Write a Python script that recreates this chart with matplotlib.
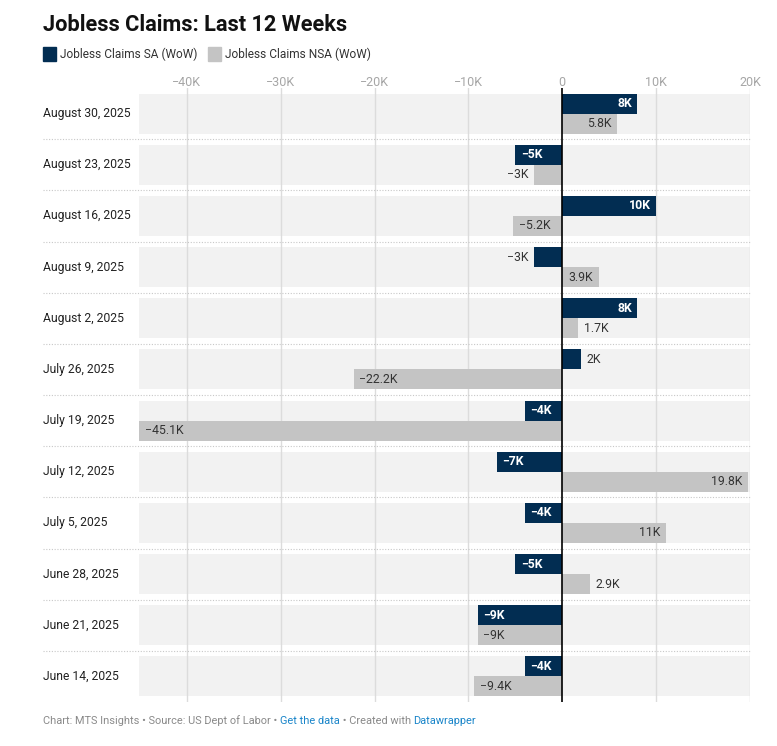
import matplotlib
matplotlib.use('Agg')
import matplotlib.pyplot as plt
from matplotlib.patches import Rectangle

plt.rcParams['font.family'] = ['Roboto', 'DejaVu Sans']

dates = ['August 30, 2025', 'August 23, 2025', 'August 16, 2025', 'August 9, 2025',
         'August 2, 2025', 'July 26, 2025', 'July 19, 2025', 'July 12, 2025',
         'July 5, 2025', 'June 28, 2025', 'June 21, 2025', 'June 14, 2025']
sa = [8, -5, 10, -3, 8, 2, -4, -7, -4, -5, -9, -4]
nsa = [5.8, -3, -5.2, 3.9, 1.7, -22.2, -45.1, 19.8, 11, 2.9, -9, -9.4]
ticks = [-40, -30, -20, -10, 0, 10, 20]

navy = '#022d52'
grey = '#c4c4c4'
band = '#f2f2f2'

W, H = 777, 746
fig = plt.figure(figsize=(W / 100, H / 100), dpi=100)
x0, x1 = 139, 750
ytop, ybot = 88, 702
ax = fig.add_axes([x0 / W, 1 - ybot / H, (x1 - x0) / W, (ybot - ytop) / H])

xmin, xmax = min(nsa), 20
n = len(dates)
ax.set_xlim(xmin, xmax)
ax.set_ylim(n - 0.5, -0.5)
for s in ax.spines.values():
    s.set_visible(False)

h = 0.39
for i in range(n):
    ax.barh(i, xmax - xmin, left=xmin, height=2 * h, color=band, zorder=0)
for t in ticks:
    if t != 0:
        ax.axvline(t, color='#dcdcdc', lw=1, zorder=1)
for i in range(n - 1):
    ax.axhline(i + 0.5, xmin=(43 - x0) / (x1 - x0), xmax=1, color='#c8c8c8',
               lw=0.8, ls=(0, (1, 1.5)), clip_on=False, zorder=1)

ys = [i - h / 2 for i in range(n)]
yn = [i + h / 2 for i in range(n)]
ax.barh(ys, sa, height=h, color=navy, zorder=2)
ax.barh(yn, nsa, height=h, color=grey, zorder=2)
ax.axvline(0, color='black', lw=1.2, zorder=3)


def fmt(v):
    s = ('%g' % abs(v)) + 'K'
    return ('\u2212' + s) if v < 0 else s


def label(v, y, inside_color, inside_weight):
    inside = abs(v) >= 3.5
    sign = 1 if v >= 0 else -1
    if inside:
        off = -4 * sign
        ha = 'right' if v >= 0 else 'left'
        col, wt = inside_color, inside_weight
    else:
        off = 4 * sign
        ha = 'left' if v >= 0 else 'right'
        col, wt = '#333333', 'normal'
    ax.annotate(fmt(v), (v, y), xytext=(off, 0), textcoords='offset points',
                ha=ha, va='center', fontsize=8.8, color=col, fontweight=wt, zorder=4)


for i in range(n):
    label(sa[i], ys[i], 'white', 'bold')
    label(nsa[i], yn[i], '#333333', 'normal')

ax.set_yticks([])
ax.set_xticks(ticks)
ax.set_xticklabels([fmt(t * 1.0) if t else '0' for t in ticks])
ax.xaxis.tick_top()
ax.tick_params(axis='x', length=0, pad=-1, labelsize=9, labelcolor='#a6a6a6')

lt = ax.get_yaxis_transform()
for i, d in enumerate(dates):
    ax.text((43 - x0) / (x1 - x0), i, d, transform=lt, ha='left', va='center',
            fontsize=8.7, color='#222222')

fig.text(43 / W, 1 - 31 / H, 'Jobless Claims: Last 12 Weeks', fontsize=15.7,
         fontweight='bold', color='#111111', va='baseline')

# legend
for lx, txt, c in [(43, 'Jobless Claims SA (WoW)', navy), (208, 'Jobless Claims NSA (WoW)', grey)]:
    fig.patches.append(Rectangle((lx / W, 1 - 61 / H), 13 / W, 14 / H, color=c,
                                 transform=fig.transFigure))
    fig.text((lx + 17) / W, 1 - 54 / H, txt, fontsize=8.6, color='#333333', va='center')

# footer
parts = [('Chart: MTS Insights \u2022 Source: US Dept of Labor \u2022 ', '#8a8a8a'),
         ('Get the data', '#1a85c9'),
         (' \u2022 Created with ', '#8a8a8a'),
         ('Datawrapper', '#1a85c9')]
fig.canvas.draw()
r = fig.canvas.get_renderer()
fx = 43
for txt, c in parts:
    t = fig.text(fx / W, 1 - 721 / H, txt, fontsize=7.9, color=c, va='center')
    fx += t.get_window_extent(r).width

fig.savefig('out.png', dpi=100)
